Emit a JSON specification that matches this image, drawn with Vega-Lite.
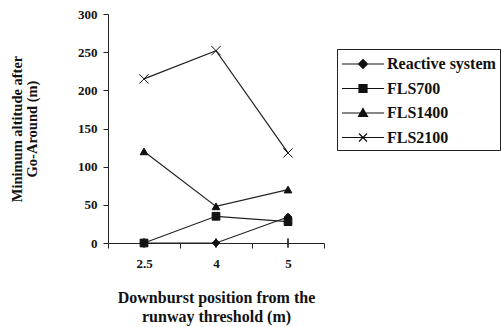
{
  "$schema": "https://vega.github.io/schema/vega-lite/v6.json",
  "autosize": "none",
  "width": 216,
  "height": 229,
  "padding": {"left": 108, "top": 14, "right": 177, "bottom": 84},
  "background": "white",
  "config": {"view": {"stroke": null}, "font": "Liberation Serif"},
  "data": {
    "values": [
      {"series": "Reactive system", "pos": "2.5", "alt": 0},
      {"series": "Reactive system", "pos": "4", "alt": 0},
      {"series": "Reactive system", "pos": "5", "alt": 34},
      {"series": "FLS700", "pos": "2.5", "alt": 0},
      {"series": "FLS700", "pos": "4", "alt": 35},
      {"series": "FLS700", "pos": "5", "alt": 28},
      {"series": "FLS1400", "pos": "2.5", "alt": 120},
      {"series": "FLS1400", "pos": "4", "alt": 48},
      {"series": "FLS1400", "pos": "5", "alt": 70},
      {"series": "FLS2100", "pos": "2.5", "alt": 215},
      {"series": "FLS2100", "pos": "4", "alt": 252},
      {"series": "FLS2100", "pos": "5", "alt": 118}
    ]
  },
  "encoding": {
    "x": {
      "field": "pos", "type": "ordinal", "sort": ["2.5", "4", "5"],
      "scale": {"paddingInner": 0, "paddingOuter": 0},
      "axis": {
        "tickBand": "extent", "tickSize": 5, "tickColor": "#222", "domainColor": "#222",
        "labelAngle": 0, "labelFont": "Liberation Serif", "labelFontWeight": "bold", "labelFontSize": 13,
        "labelColor": "#111", "labelPadding": 9,
        "title": ["Downburst position from the", "runway threshold (m)"],
        "titleFont": "Liberation Serif", "titleFontWeight": "bold", "titleFontSize": 16,
        "titleColor": "#111", "titlePadding": 19, "titleLineHeight": 19
      }
    },
    "y": {
      "field": "alt", "type": "quantitative",
      "scale": {"domain": [0, 300]},
      "axis": {
        "values": [0, 50, 100, 150, 200, 250, 300], "grid": false,
        "tickSize": 5, "tickColor": "#222", "domainColor": "#222",
        "labelFont": "Liberation Serif", "labelFontWeight": "bold", "labelFontSize": 13,
        "labelColor": "#111", "labelPadding": 6,
        "title": ["Minimum altitude after", "Go-Around (m)"],
        "titleFont": "Liberation Serif", "titleFontWeight": "bold", "titleFontSize": 14.5,
        "titleColor": "#111", "titlePadding": 38, "titleLineHeight": 15
      }
    }
  },
  "layer": [
    {
      "mark": {"type": "tick", "orient": "vertical", "size": 9, "thickness": 1, "color": "#222"},
      "encoding": {"y": {"datum": 0}}
    },
    {
      "mark": {"type": "line", "color": "#222", "strokeWidth": 1.2},
      "encoding": {"detail": {"field": "series"}}
    },
    {
      "mark": {"type": "point", "filled": true, "fill": "#111", "stroke": "#111", "strokeWidth": 1, "opacity": 1, "size": 60},
      "encoding": {
        "shape": {
          "field": "series",
          "scale": {
            "domain": ["Reactive system", "FLS700", "FLS1400", "FLS2100"],
            "range": ["diamond", "square", "triangle-up", "M-1.2,-1.2L1.2,1.2M-1.2,1.2L1.2,-1.2"]
          },
          "legend": null
        }
      }
    },
    {
      "mark": {"type": "point", "filled": false, "color": "#111", "strokeWidth": 1.2, "opacity": 0, "size": 400},
      "encoding": {
        "shape": {
          "field": "series",
          "scale": {
            "domain": ["Reactive system", "FLS700", "FLS1400", "FLS2100"],
            "range": [
              "M-1,0H3.2M1.1,-0.45L1.55,0L1.1,0.45L0.65,0ZM0.75,-0.1H1.45M0.85,-0.2H1.35M0.95,-0.3H1.25M0.75,0.1H1.45M0.85,0.2H1.35M0.95,0.3H1.25",
              "M-1,0H3.2M0.7,-0.4H1.5V0.4H0.7ZM0.7,-0.3H1.5M0.7,-0.2H1.5M0.7,-0.1H1.5M0.7,0.1H1.5M0.7,0.2H1.5M0.7,0.3H1.5",
              "M-1,0H3.2M1.1,-0.45L1.55,0.35H0.65ZM1.02,-0.3H1.18M0.96,-0.2H1.24M0.9,-0.1H1.3M0.79,0.1H1.41M0.73,0.2H1.47M0.68,0.3H1.52",
              "M-1,0H3.2M0.7,-0.4L1.5,0.4M0.7,0.4L1.5,-0.4"
            ]
          },
          "legend": {
            "orient": "none", "legendX": 229, "legendY": 35, "title": null,
            "padding": 4, "strokeColor": "#222", "fillColor": "white",
            "symbolSize": 400, "symbolOpacity": 1, "symbolStrokeColor": "#111",
            "symbolStrokeWidth": 1.2,
            "labelFont": "Liberation Serif", "labelFontWeight": "bold", "labelFontSize": 16,
            "labelColor": "#111", "labelOffset": 24, "rowPadding": 5.5,
            "encode": {
              "legend": {"update": {"strokeWidth": {"value": 1.5}}}
            }
          }
        }
      }
    }
  ],
  "resolve": {"scale": {"shape": "independent"}}
}
